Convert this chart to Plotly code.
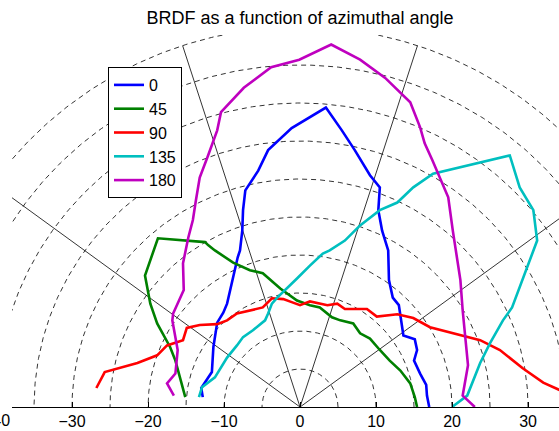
import numpy as np
import plotly.graph_objects as go

# ---- data (chart units) ----
labels = ["0", "45", "90", "135", "180"]
colors = ["#0000ff", "#008000", "#ff0000", "#00bfbf", "#bf00bf"]

az0_x = [-12.8, -13.0, -11.6, -11.4, -10.9, -10.1, -9.6, -9.2, -8.6, -8.2, -7.9, -7.6, -7.5, -7.2,
         -5.5, -4.2, -1.1, 0.1, 3.4, 5.5, 7.2, 9.2, 10.5, 10.3, 10.8, 11.6, 11.7, 12.2, 13.0, 13.6,
         15.1, 15.4, 15.0, 15.8, 16.6, 16.7, 17.0]
az0_y = [1.3, 2.5, 4.6, 7.9, 11.1, 12.4, 13.6, 15.4, 17.7, 19.7, 20.6, 23.2, 25.9, 28.5,
         31.1, 33.8, 36.7, 37.4, 39.4, 36.4, 33.8, 30.5, 28.9, 25.9, 23.2, 20.6, 16.7, 14.4, 13.4, 9.4,
         8.9, 7.5, 6.1, 4.4, 2.9, 1.5, 0.0]

az45_x = [-15.1, -15.8, -16.4, -17.1, -18.8, -19.7, -20.4, -18.7, -12.5, -12.1, -11.2, -8.8, -6.6,
          -4.9, -3.9, -2.6, -0.4, 1.3, 2.6, 4.2, 5.3, 7.0, 7.9, 9.2, 10.5, 11.8, 13.2, 14.5, 15.1, 15.4]
az45_y = [1.3, 3.9, 6.1, 7.9, 11.0, 13.6, 17.3, 22.2, 21.7, 21.3, 20.6, 19.0, 18.0,
          17.6, 16.7, 15.6, 14.0, 13.4, 13.1, 11.8, 11.4, 11.0, 9.7, 9.0, 7.5, 6.1, 4.8, 3.1, 1.3, 0.0]

az90_x = [-26.8, -25.7, -21.4, -18.8, -17.5, -15.4, -14.9, -13.2, -10.9, -9.6, -8.3, -6.6, -4.9,
          -3.7, -2.2, -1.1, 0.0, 1.3, 3.6, 4.9, 5.9, 8.8, 10.1, 12.8, 14.9, 17.1, 19.7, 23.7, 26.3,
          29.3, 32.0, 34.9]
az90_y = [2.5, 4.6, 5.8, 6.8, 8.1, 8.8, 10.4, 10.8, 10.9, 11.4, 12.3, 12.7, 13.1,
          14.3, 14.2, 13.8, 13.4, 13.9, 13.4, 13.6, 12.9, 12.9, 11.9, 12.2, 11.7, 10.5, 9.8, 8.8, 7.5,
          5.1, 3.2, 1.9]

az135_x = [-13.3, -12.9, -11.2, -9.6, -8.3, -7.5, -6.2, -4.6, -4.2, -3.7, -3.0, -1.7, -0.4, 1.3,
           3.0, 3.9, 5.9, 7.9, 10.5, 12.8, 14.9, 17.5, 27.6, 28.9, 30.7, 31.2, 29.6, 27.9, 26.7,
           25.0, 23.7, 22.0, 20.0]
az135_y = [1.3, 2.6, 3.9, 6.5, 8.1, 9.2, 10.1, 11.4, 12.3, 13.6, 14.4, 15.6, 16.9, 18.6,
           20.2, 20.6, 21.9, 23.9, 25.9, 26.9, 28.9, 30.7, 33.1, 28.9, 25.9, 21.9, 17.7, 13.1, 11.4,
           8.4, 5.8, 1.5, 0.0]

az180_x = [-16.6, -17.5, -16.4, -16.1, -16.8, -16.7, -15.3, -15.4, -14.7, -14.1, -13.7, -13.2,
           -12.1, -10.9, -10.4, -7.4, -3.8, -0.1, 4.1, 7.9, 11.2, 14.5, 15.8, 16.4, 17.4, 18.2,
           19.5, 20.1, 20.8, 21.1, 21.4, 21.8, 22.1, 21.4, 23.0]
az180_y = [1.5, 3.1, 4.4, 7.5, 11.4, 12.3, 15.4, 18.9, 22.3, 24.6, 27.2, 30.2,
           33.1, 36.4, 38.8, 42.0, 44.7, 45.7, 47.7, 45.7, 43.3, 40.1, 36.8, 34.7, 32.5, 30.7,
           27.6, 23.2, 18.9, 16.7, 12.7, 8.8, 5.5, 1.5, 0.0]

series_x = [az0_x, az45_x, az90_x, az135_x, az180_x]
series_y = [az0_y, az45_y, az90_y, az135_y, az180_y]

circle_radii = [5, 10, 15, 20, 25, 30, 35, 40, 45, 50]
spoke_angles = [36, 72, 108, 144]
spoke_len = 50
xticks = [-30, -20, -10, 0, 10, 20, 30]
x_range = [-37.9, -37.9 + 547 / 7.6]
clipped_tick = -40

FONT = "Liberation Sans, Arial, Helvetica, sans-serif"

fig = go.Figure()

# grid: dashed circles
t = np.linspace(0, np.pi, 361)
for r in circle_radii:
    fig.add_trace(go.Scatter(x=r * np.cos(t), y=r * np.sin(t), mode="lines",
                             line=dict(color="black", width=0.8, dash="5px,4px"),
                             hoverinfo="skip", showlegend=False))
# spokes
for a in spoke_angles:
    ar = np.deg2rad(a)
    fig.add_trace(go.Scatter(x=[0, spoke_len * np.cos(ar)], y=[0, spoke_len * np.sin(ar)],
                             mode="lines", line=dict(color="black", width=0.8),
                             hoverinfo="skip", showlegend=False))

for lab, col, xs, ys in zip(labels, colors, series_x, series_y):
    fig.add_trace(go.Scatter(x=xs, y=ys, mode="lines", name=lab,
                             line=dict(color=col, width=2.6)))

# tick label of -40 lies just outside the axes (partly cut off by the page edge)
fig.add_annotation(x=(clipped_tick - x_range[0]) / (x_range[1] - x_range[0]), xref="paper",
                   y=0, yref="paper", yshift=-13, text="−40",
                   showarrow=False, font=dict(family=FONT, size=16, color="black"),
                   xanchor="center", yanchor="middle")

fig.update_layout(
    width=559, height=431,
    margin=dict(l=12, r=0, t=35, b=24, autoexpand=False),
    paper_bgcolor="white", plot_bgcolor="white",
    title=dict(text="BRDF as a function of azimuthal angle", x=300 / 559, xref="container",
               y=1 - 18 / 431, yref="container", xanchor="center", yanchor="middle",
               font=dict(family=FONT, size=18, color="black")),
    legend=dict(x=(108 - 12) / 547, y=(407 - 67) / 372, xanchor="left", yanchor="top",
                bgcolor="white", bordercolor="black", borderwidth=1,
                font=dict(family=FONT, size=16, color="black"), itemwidth=30,
                tracegroupgap=0),
    showlegend=True,
)
fig.update_xaxes(range=x_range, tickvals=xticks, showgrid=False,
                 zeroline=False, showline=True, linecolor="black", linewidth=1,
                 ticks="inside", ticklen=5, tickcolor="black", automargin=False,
                 tickfont=dict(family=FONT, size=16, color="black"))
fig.update_yaxes(range=[0, 372 / 7.6], visible=False, showgrid=False, zeroline=False,
                 automargin=False)

fig.write_html("out.html", config={"displayModeBar": False},
               post_script="document.body.style.margin='0';document.body.style.overflow='hidden';")
